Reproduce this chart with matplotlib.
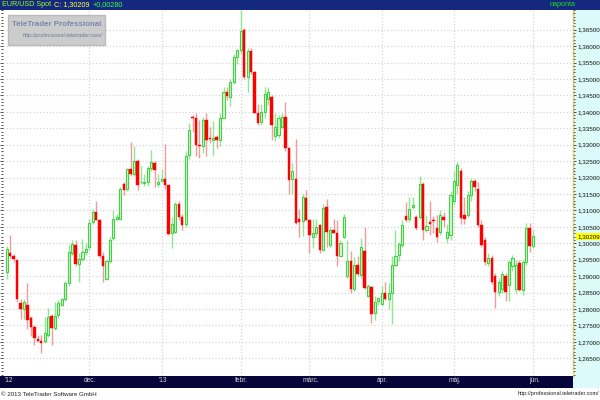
import numpy as np
import matplotlib
matplotlib.use("Agg")
import matplotlib.pyplot as plt
from matplotlib.patches import Rectangle
from matplotlib.ticker import MultipleLocator

# daily EUR/USD candles, Nov 2012 - Jun 2013
opens = [1.2912, 1.2969, 1.2961, 1.2948, 1.2819, 1.2800, 1.2812, 1.2772, 1.2744, 1.2710,
         1.2703, 1.2702, 1.2721, 1.2779, 1.2741, 1.2782, 1.2812, 1.2829, 1.2880, 1.2969,
         1.2994, 1.2938, 1.2952, 1.2974, 1.2988, 1.3065, 1.3095, 1.3072, 1.2962, 1.2892,
         1.2945, 1.3015, 1.3073, 1.3075, 1.3180, 1.3165, 1.3225, 1.3210, 1.3250, 1.3185,
         1.3182, 1.3185, 1.3230, 1.3245, 1.3180, 1.3190, 1.3195, 1.3177, 1.3030, 1.3035,
         1.3120, 1.3080, 1.3060, 1.3270, 1.3385, 1.3380, 1.3300, 1.3295, 1.3375, 1.3320,
         1.3315, 1.3323, 1.3315, 1.3380, 1.3460, 1.3445, 1.3490, 1.3567, 1.3587, 1.3650,
         1.3505, 1.3585, 1.3520, 1.3395, 1.3370, 1.3400, 1.3440, 1.3445, 1.3325, 1.3330,
         1.3355, 1.3385, 1.3290, 1.3195, 1.3195, 1.3075, 1.3068, 1.3138, 1.3070, 1.3018,
         1.3030, 1.3055, 1.2978, 1.3110, 1.2995, 1.3040, 1.3032, 1.2962, 1.3018, 1.2900,
         1.2945, 1.2862, 1.2935, 1.2902, 1.2975, 1.2840, 1.2868, 1.2788, 1.2825, 1.2815,
         1.2850, 1.2830, 1.2850, 1.2935, 1.2965, 1.2995, 1.3082, 1.3075, 1.3110, 1.3080,
         1.3080, 1.3180, 1.3040, 1.3064, 1.3072, 1.3045, 1.3033, 1.3080, 1.3015, 1.3025,
         1.3130, 1.3176, 1.3221, 1.3085, 1.3085, 1.3146, 1.3190, 1.3165, 1.3055, 1.3009,
         1.2940, 1.2955, 1.2900, 1.2851, 1.2860, 1.2900, 1.2872, 1.2930, 1.2860, 1.2939,
         1.2857, 1.2942, 1.3045, 1.2993]
highs = [1.2991, 1.3024, 1.2966, 1.2952, 1.2829, 1.2830, 1.2878, 1.2780, 1.2751, 1.2720,
         1.2720, 1.2776, 1.2802, 1.2784, 1.2822, 1.2828, 1.2833, 1.2885, 1.2994, 1.3010,
         1.3010, 1.2969, 1.3014, 1.3000, 1.3075, 1.3105, 1.3130, 1.3075, 1.2972, 1.2950,
         1.3018, 1.3100, 1.3090, 1.3170, 1.3185, 1.3230, 1.3308, 1.3295, 1.3255, 1.3235,
         1.3210, 1.3235, 1.3285, 1.3250, 1.3210, 1.3225, 1.3302, 1.3177, 1.3080, 1.3125,
         1.3130, 1.3090, 1.3280, 1.3365, 1.3390, 1.3395, 1.3375, 1.3385, 1.3397, 1.3355,
         1.3373, 1.3330, 1.3395, 1.3475, 1.3475, 1.3500, 1.3575, 1.3590, 1.3711, 1.3655,
         1.3593, 1.3595, 1.3525, 1.3425, 1.3425, 1.3475, 1.3475, 1.3450, 1.3395, 1.3390,
         1.3395, 1.3430, 1.3292, 1.3245, 1.3318, 1.3105, 1.3150, 1.3162, 1.3075, 1.3075,
         1.3075, 1.3060, 1.3120, 1.3135, 1.3050, 1.3075, 1.3070, 1.3010, 1.3088, 1.3010,
         1.2975, 1.2958, 1.2960, 1.3015, 1.3050, 1.2875, 1.2870, 1.2840, 1.2835, 1.2870,
         1.2882, 1.2880, 1.2960, 1.3040, 1.3005, 1.3070, 1.3125, 1.3140, 1.3140, 1.3085,
         1.3205, 1.3185, 1.3085, 1.3130, 1.3082, 1.3085, 1.3100, 1.3095, 1.3060, 1.3160,
         1.3220, 1.3246, 1.3230, 1.3140, 1.3160, 1.3200, 1.3195, 1.3185, 1.3070, 1.3020,
         1.2970, 1.2965, 1.2910, 1.2895, 1.2915, 1.2910, 1.2950, 1.2965, 1.2950, 1.2950,
         1.2950, 1.3061, 1.3061, 1.3039]
lows = [1.2890, 1.2955, 1.2944, 1.2821, 1.2769, 1.2768, 1.2738, 1.2718, 1.2691, 1.2700,
        1.2665, 1.2697, 1.2716, 1.2691, 1.2735, 1.2773, 1.2808, 1.2825, 1.2870, 1.2965,
        1.2932, 1.2883, 1.2945, 1.2965, 1.2980, 1.3060, 1.3070, 1.2955, 1.2882, 1.2888,
        1.2940, 1.3010, 1.3070, 1.3075, 1.3148, 1.3160, 1.3205, 1.3205, 1.3162, 1.3180,
        1.3175, 1.3175, 1.3220, 1.3170, 1.3170, 1.3190, 1.3165, 1.3025, 1.2987, 1.3030,
        1.3070, 1.3040, 1.3050, 1.3255, 1.3340, 1.3265, 1.3260, 1.3275, 1.3265, 1.3305,
        1.3267, 1.3290, 1.3295, 1.3380, 1.3435, 1.3417, 1.3485, 1.3545, 1.3580, 1.3500,
        1.3460, 1.3515, 1.3395, 1.3360, 1.3360, 1.3380, 1.3420, 1.3315, 1.3310, 1.3320,
        1.3350, 1.3280, 1.3150, 1.3150, 1.3060, 1.3020, 1.3022, 1.3068, 1.2970, 1.2985,
        1.3020, 1.2970, 1.2975, 1.2990, 1.2990, 1.3030, 1.2930, 1.2960, 1.3015, 1.2895,
        1.2850, 1.2855, 1.2900, 1.2895, 1.2860, 1.2835, 1.2758, 1.2765, 1.2812, 1.2812,
        1.2828, 1.2800, 1.2755, 1.2930, 1.2945, 1.2990, 1.3065, 1.3065, 1.3105, 1.3040,
        1.3075, 1.3010, 1.3035, 1.3025, 1.3030, 1.3005, 1.3025, 1.3050, 1.3000, 1.3010,
        1.3120, 1.3150, 1.3060, 1.3060, 1.3080, 1.3130, 1.3160, 1.3050, 1.2990, 1.2935,
        1.2930, 1.2875, 1.2803, 1.2840, 1.2850, 1.2825, 1.2825, 1.2915, 1.2850, 1.2855,
        1.2842, 1.2935, 1.2974, 1.2985]
closes = [1.2983, 1.2961, 1.2951, 1.2829, 1.2799, 1.2822, 1.2767, 1.2746, 1.2711, 1.2703,
          1.2697, 1.2726, 1.2776, 1.2741, 1.2779, 1.2817, 1.2830, 1.2880, 1.2974, 1.2999,
          1.2938, 1.2953, 1.2974, 1.2984, 1.3062, 1.3095, 1.3072, 1.2962, 1.2930, 1.2945,
          1.3010, 1.3075, 1.3080, 1.3165, 1.3162, 1.3225, 1.3210, 1.3250, 1.3178, 1.3188,
          1.3185, 1.3230, 1.3248, 1.3222, 1.3185, 1.3195, 1.3177, 1.3027, 1.3060, 1.3120,
          1.3080, 1.3055, 1.3267, 1.3345, 1.3380, 1.3300, 1.3295, 1.3375, 1.3315, 1.3317,
          1.3320, 1.3313, 1.3380, 1.3460, 1.3447, 1.3490, 1.3567, 1.3587, 1.3645, 1.3505,
          1.3585, 1.3520, 1.3397, 1.3365, 1.3400, 1.3455, 1.3460, 1.3360, 1.3355, 1.3380,
          1.3385, 1.3290, 1.3193, 1.3220, 1.3062, 1.3065, 1.3140, 1.3070, 1.3025, 1.3030,
          1.3050, 1.2980, 1.3108, 1.3035, 1.3040, 1.3032, 1.2962, 1.3002, 1.3080, 1.2945,
          1.2860, 1.2935, 1.2905, 1.2990, 1.2865, 1.2870, 1.2785, 1.2820, 1.2832, 1.2848,
          1.2830, 1.2850, 1.2935, 1.2960, 1.2997, 1.3055, 1.3070, 1.3105, 1.3115, 1.3047,
          1.3180, 1.3040, 1.3052, 1.3060, 1.3068, 1.3018, 1.3085, 1.3070, 1.3033, 1.3146,
          1.3190, 1.3237, 1.3076, 1.3075, 1.3146, 1.3190, 1.3170, 1.3055, 1.2994, 1.2942,
          1.2955, 1.2882, 1.2851, 1.2882, 1.2905, 1.2851, 1.2942, 1.2955, 1.2935, 1.2857,
          1.2943, 1.3045, 1.2993, 1.30209]

month_labels = ["'12", "dec.", "'13", "febr.", "márc.", "ápr.", "máj.", "jún."]
month_index = [-1, 24, 45, 68, 88, 109, 130, 153]   # first trading day of each month

price_ticks = np.arange(1.265, 1.3651, 0.005)

opens = np.array(opens)
closes = np.array(closes)
highs = np.array(highs)
lows = np.array(lows)
x = np.arange(len(opens))
up = closes >= opens

plt.rcParams['font.family'] = ['Liberation Sans', 'DejaVu Sans']
fig = plt.figure(figsize=(6, 4), dpi=100)
fig.patch.set_facecolor('white')

# right scale panel, header bar and month bar
fig.add_artist(Rectangle((573/600, 12/400), 27/600, 378/400, transform=fig.transFigure,
                         facecolor='#dcfafa', edgecolor='none', zorder=0))
fig.add_artist(Rectangle((0, 390/400), 1, 10/400, transform=fig.transFigure,
                         facecolor='#14287e', edgecolor='none', zorder=0))
fig.add_artist(Rectangle((0, 12/400), 573/600, 12/400, transform=fig.transFigure,
                         facecolor='#05053a', edgecolor='none', zorder=0))

ax = fig.add_axes([3/600, 24/400, 570/600, 366/400])
ax.set_facecolor('white')

# wicks
ax.vlines(x[up], lows[up], highs[up], color='#8ee88e', linewidth=1.0, zorder=2)
ax.vlines(x[~up], lows[~up], highs[~up], color='#f49a9a', linewidth=1.0, zorder=2)
# bodies
hgt = np.abs(closes - opens)
hgt = np.maximum(hgt, 0.00025)
bot = np.minimum(opens, closes)
ax.bar(x[up], hgt[up], bottom=bot[up], width=0.62, color='#d2f7d2',
       edgecolor='#46d046', linewidth=0.8, zorder=3)
ax.bar(x[~up], hgt[~up], bottom=bot[~up], width=0.7, color='#ff0000',
       edgecolor='#ff0000', linewidth=0.3, zorder=3)

ax.set_xlim(-1.1, 164.6)
ax.set_ylim(1.2596, 1.3710)

ax.set_xticks(month_index[1:])
ax.set_xticklabels([])
ax.set_yticks(price_ticks)
ax.set_yticklabels([('%.5f' % v).replace('.', ',') for v in price_ticks])
ax.yaxis.set_minor_locator(MultipleLocator(0.001))
ax.grid(True, color='#d6d6d6', linestyle=':', linewidth=0.9)
ax.tick_params(axis='x', length=0)
ax.tick_params(axis='y', which='both', left=True, right=True, labelleft=False, labelright=True,
               direction='out', length=2.5, width=0.6, color='#333333', labelsize=4.5,
               labelcolor='#101010', pad=1)
ax.tick_params(axis='y', which='minor', length=1.5)
for s in ['top', 'bottom', 'left']:
    ax.spines[s].set_visible(False)
ax.spines['right'].set_color('#e0b840')
ax.spines['right'].set_linestyle(':')
ax.spines['right'].set_linewidth(1.0)

# month labels in the bottom bar
for lab, pos in zip(month_labels, month_index):
    ha = 'left' if pos < 0 else 'center'
    ax.text(pos + 0.3, -0.004, lab, transform=ax.get_xaxis_transform(), ha=ha, va='top',
            fontsize=4.8, color='#d8d8d8', clip_on=False)

# last price marker
ax.text(1.007, closes[-1], ('%.5f' % closes[-1]).replace('.', ','), transform=ax.get_yaxis_transform(),
        ha='left', va='center', fontsize=4.5, color='#101010', clip_on=False, zorder=5,
        bbox=dict(boxstyle='square,pad=0.15', facecolor='#ffff00', edgecolor='none'))

# watermark
fig.add_artist(Rectangle((8/600, 355/400), 97/600, 30/400, transform=fig.transFigure,
                         facecolor='#c4c4c4', edgecolor='#b4b4b4', alpha=0.85, zorder=4))
fig.text(12/600, 375/400, 'TeleTrader Professional', fontsize=5.7, fontweight='bold',
         color='#7888ac', va='center', ha='left', zorder=5)
fig.text(23/600, 364/400, 'http://professional.teletrader.com/', fontsize=3.9, style='italic',
         color='#6a7896', va='center', ha='left', zorder=5)

# header, pieces placed one after the other
renderer = fig.canvas.get_renderer()
hx = 2
for txt, col in [('EUR/USD Spot', '#99ff22'), ('C: 1,30209', '#ffff44'), ('+0,00280', '#44ff44')]:
    t = fig.text(hx/600, 395/400, txt, fontsize=5.2, color=col, va='center', ha='left')
    hx = t.get_window_extent(renderer).x1 + 3
fig.text(550/600, 395/400, 'naponta', fontsize=5.2, color='#22dd22', va='center', ha='left')

# footer
fig.text(1/600, 6/400, '\u00a9 2013 TeleTrader Software GmbH', fontsize=4.4, color='#202020',
         va='center', ha='left')
fig.text(599/600, 6/400, 'http://professional.teletrader.com/', fontsize=4.0, color='#202020',
         va='center', ha='right')

fig.savefig('out.png', dpi=100)
